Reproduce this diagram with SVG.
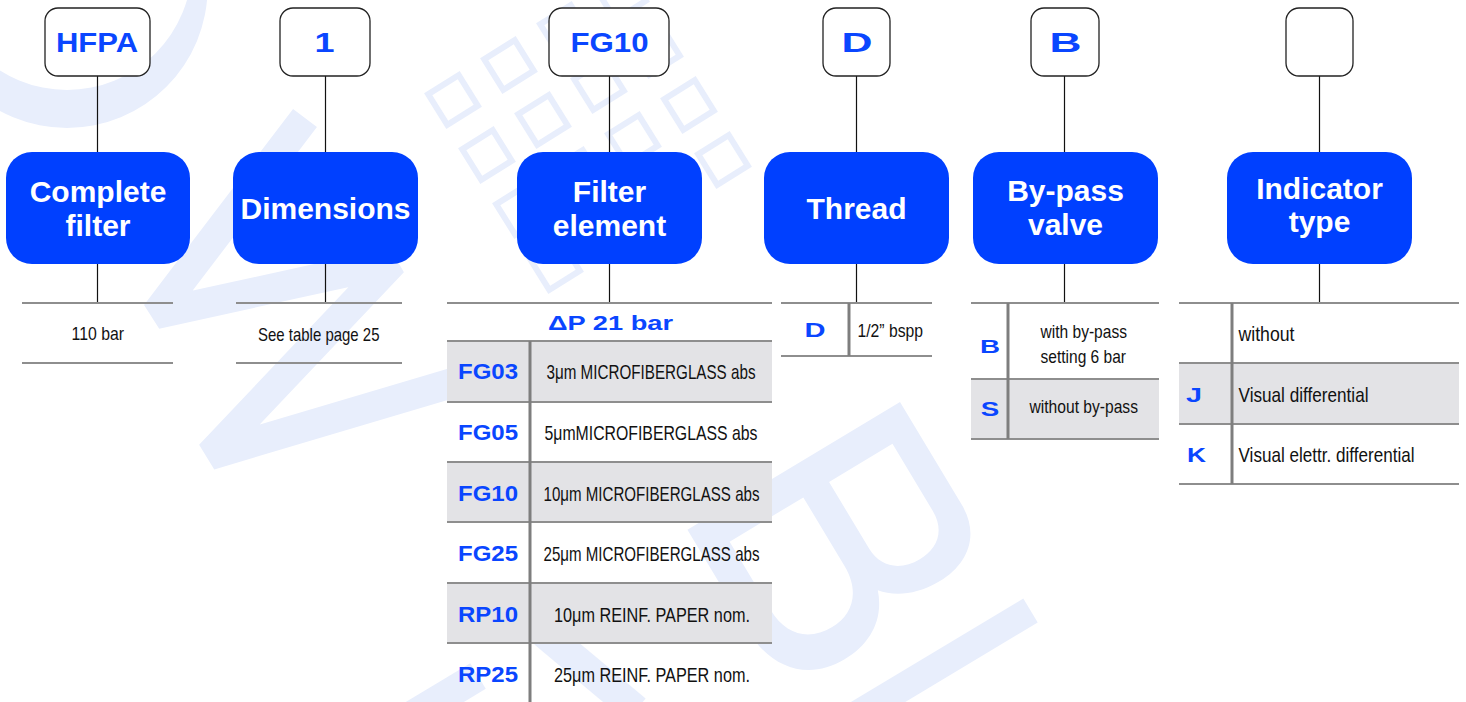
<svg xmlns="http://www.w3.org/2000/svg" width="1466" height="702" viewBox="0 0 1466 702">
<style>
.wm{fill:#e8eefc}
.wms{fill:none;stroke:#e8eefc}
.code-box{fill:#fff;stroke:#222;stroke-width:1.3}
.blue-box{fill:#0040ff}
.title{font-family:"Liberation Sans",Arial,sans-serif;font-weight:700;font-size:30px;fill:#fff;text-anchor:middle}
.code{font-family:"Liberation Sans",Arial,sans-serif;font-weight:700;fill:#0a46ff}
.top-code{font-size:27.5px;text-anchor:middle}
.desc{font-family:"Liberation Sans",Arial,sans-serif;fill:#111}
.d21{font-size:21px}
.d18{font-size:18.5px}
.hline{stroke:#8e8e8e;stroke-width:2}
.vsep{stroke:#7e7e7e;stroke-width:3}
.shade{fill:#e3e3e6}
.conn{stroke:#111;stroke-width:1.2}
</style>
<rect width="1466" height="702" fill="#fff"/>
<g id="watermark">
  <path class="wm" fill-rule="evenodd" d="M-73.6,-12.6 a140.6,140.6 0 1,0 281.2,0 a140.6,140.6 0 1,0 -281.2,0 Z M-58,-35 a125,125 0 1,0 250,0 a125,125 0 1,0 -250,0 Z"/>
  <polyline class="wms" stroke-width="30" stroke-linejoin="bevel" points="305,118 156,314 393,262 210,455 530,360"/>
  <g class="wms" stroke-width="6">
    <rect x="-18" y="-18" width="36" height="36" transform="translate(453,100) rotate(-32)"/>
    <rect x="-18" y="-18" width="36" height="36" transform="translate(509,65) rotate(-32)"/>
    <rect x="-18" y="-18" width="36" height="36" transform="translate(565,30) rotate(-32)"/>
    <rect x="-18" y="-18" width="36" height="36" transform="translate(621,-5) rotate(-32)"/>
    <rect x="-18" y="-18" width="36" height="36" transform="translate(487,155) rotate(-32)"/>
    <rect x="-18" y="-18" width="36" height="36" transform="translate(543,120) rotate(-32)"/>
    <rect x="-18" y="-18" width="36" height="36" transform="translate(599,85) rotate(-32)"/>
    <rect x="-18" y="-18" width="36" height="36" transform="translate(655,50) rotate(-32)"/>
    <rect x="-18" y="-18" width="36" height="36" transform="translate(521,210) rotate(-32)"/>
    <rect x="-18" y="-18" width="36" height="36" transform="translate(577,175) rotate(-32)"/>
    <rect x="-18" y="-18" width="36" height="36" transform="translate(633,140) rotate(-32)"/>
    <rect x="-18" y="-18" width="36" height="36" transform="translate(689,105) rotate(-32)"/>
    <rect x="-18" y="-18" width="36" height="36" transform="translate(555,265) rotate(-32)"/>
    <rect x="-18" y="-18" width="36" height="36" transform="translate(611,230) rotate(-32)"/>
    <rect x="-18" y="-18" width="36" height="36" transform="translate(667,195) rotate(-32)"/>
    <rect x="-18" y="-18" width="36" height="36" transform="translate(723,160) rotate(-32)"/>
  </g>
  <path class="wm" fill-rule="evenodd" transform="translate(900,402) rotate(59)" d="M0,0 H120 C155,0 174,25 174,58 C174,88 162,106 150,116 C178,126 192,150 192,180 C192,222 162,248 118,248 H0 Z M32,28 H110 C134,28 145,44 145,64 C145,86 132,102 110,102 H32 Z M32,132 H112 C142,132 158,150 158,174 C158,200 142,218 112,218 H32 Z"/>
  <line class="wms" stroke-width="28" x1="1030.5" y1="610.5" x2="799" y2="749.5"/>
  <line class="wms" stroke-width="30" x1="380" y1="735" x2="478" y2="676"/>
  <line class="wms" stroke-width="30" x1="544" y1="633" x2="636" y2="710"/>
</g>

<g id="connectors">
  <line class="conn" x1="97.5" y1="76" x2="97.5" y2="152"/>
  <line class="conn" x1="97.5" y1="264" x2="97.5" y2="303"/>
  <line class="conn" x1="325.5" y1="76" x2="325.5" y2="152"/>
  <line class="conn" x1="325.5" y1="264" x2="325.5" y2="303"/>
  <line class="conn" x1="609.5" y1="76" x2="609.5" y2="152"/>
  <line class="conn" x1="609.5" y1="264" x2="609.5" y2="303"/>
  <line class="conn" x1="856.5" y1="76" x2="856.5" y2="152"/>
  <line class="conn" x1="856.5" y1="264" x2="856.5" y2="303"/>
  <line class="conn" x1="1064.5" y1="76" x2="1064.5" y2="152"/>
  <line class="conn" x1="1064.5" y1="264" x2="1064.5" y2="303"/>
  <line class="conn" x1="1319.5" y1="76" x2="1319.5" y2="152"/>
  <line class="conn" x1="1319.5" y1="264" x2="1319.5" y2="303"/>
</g>

<g id="code-hfpa">
  <rect class="code-box" x="45" y="8" width="105" height="68" rx="13"/>
  <text class="code top-code" x="97" y="51.7" textLength="82" lengthAdjust="spacingAndGlyphs">HFPA</text>
</g>
<g id="code-1">
  <rect class="code-box" x="280" y="8" width="90" height="68" rx="13"/>
  <text class="code top-code" x="324.5" y="51.7" textLength="20" lengthAdjust="spacingAndGlyphs">1</text>
</g>
<g id="code-fg10">
  <rect class="code-box" x="549" y="8" width="120" height="68" rx="13"/>
  <text class="code top-code" x="609.5" y="51.7" textLength="78" lengthAdjust="spacingAndGlyphs">FG10</text>
</g>
<g id="code-d">
  <rect class="code-box" x="823" y="8" width="67" height="68" rx="13"/>
  <text class="code top-code" x="857" y="51.7" textLength="31" lengthAdjust="spacingAndGlyphs">D</text>
</g>
<g id="code-b">
  <rect class="code-box" x="1031" y="8" width="68" height="68" rx="13"/>
  <text class="code top-code" x="1065.5" y="51.7" textLength="32" lengthAdjust="spacingAndGlyphs">B</text>
</g>
<g id="code-empty">
  <rect class="code-box" x="1286" y="8" width="67" height="68" rx="13"/>
</g>

<g id="node-complete-filter">
  <rect class="blue-box" x="6" y="152" width="184" height="112" rx="26"/>
  <text class="title" x="98" y="202">Complete</text>
  <text class="title" x="98" y="236">filter</text>
</g>
<g id="node-dimensions">
  <rect class="blue-box" x="233" y="152" width="185" height="112" rx="26"/>
  <text class="title" x="325.5" y="218.5">Dimensions</text>
</g>
<g id="node-filter-element">
  <rect class="blue-box" x="517" y="152" width="185" height="112" rx="26"/>
  <text class="title" x="609.5" y="202">Filter</text>
  <text class="title" x="609.5" y="235.5">element</text>
</g>
<g id="node-thread">
  <rect class="blue-box" x="764" y="152" width="185" height="112" rx="26"/>
  <text class="title" x="856.5" y="218.5">Thread</text>
</g>
<g id="node-bypass">
  <rect class="blue-box" x="973" y="152" width="185" height="112" rx="26"/>
  <text class="title" x="1065.5" y="201">By-pass</text>
  <text class="title" x="1065.5" y="235">valve</text>
</g>
<g id="node-indicator">
  <rect class="blue-box" x="1227" y="152" width="185" height="112" rx="26"/>
  <text class="title" x="1319.5" y="198.5">Indicator</text>
  <text class="title" x="1319.5" y="231.5">type</text>
</g>

<g id="table-complete-filter">
  <line class="hline" x1="22" y1="303" x2="173" y2="303"/>
  <line class="hline" x1="22" y1="363" x2="173" y2="363"/>
  <text class="desc d18" x="71.5" y="340" textLength="52.5" lengthAdjust="spacingAndGlyphs">110 bar</text>
</g>
<g id="table-dimensions">
  <line class="hline" x1="236" y1="303" x2="402" y2="303"/>
  <line class="hline" x1="236" y1="363" x2="402" y2="363"/>
  <text class="desc d18" x="258" y="341" textLength="121.5" lengthAdjust="spacingAndGlyphs">See table page 25</text>
</g>
<g id="table-filter-element">
  <rect class="shade" x="447" y="341" width="325" height="61"/>
  <rect class="shade" x="447" y="462" width="325" height="60"/>
  <rect class="shade" x="447" y="583" width="325" height="60"/>
  <line class="hline" x1="447" y1="303" x2="772" y2="303"/>
  <line class="hline" x1="447" y1="341" x2="772" y2="341"/>
  <line class="hline" x1="447" y1="402" x2="772" y2="402"/>
  <line class="hline" x1="447" y1="462" x2="772" y2="462"/>
  <line class="hline" x1="447" y1="522" x2="772" y2="522"/>
  <line class="hline" x1="447" y1="583" x2="772" y2="583"/>
  <line class="hline" x1="447" y1="643" x2="772" y2="643"/>
  <line class="vsep" x1="530" y1="341" x2="530" y2="702"/>
  <text class="code" x="548" y="330" font-size="21" textLength="125" lengthAdjust="spacingAndGlyphs">ΔP 21 bar</text>
  <text class="code" x="458" y="379.3" font-size="22.5" textLength="60" lengthAdjust="spacingAndGlyphs">FG03</text>
  <text class="code" x="458" y="440" font-size="22.5" textLength="60" lengthAdjust="spacingAndGlyphs">FG05</text>
  <text class="code" x="458" y="500.7" font-size="22.5" textLength="60" lengthAdjust="spacingAndGlyphs">FG10</text>
  <text class="code" x="458" y="561" font-size="22.5" textLength="60" lengthAdjust="spacingAndGlyphs">FG25</text>
  <text class="code" x="458" y="621.7" font-size="22.5" textLength="60" lengthAdjust="spacingAndGlyphs">RP10</text>
  <text class="code" x="458" y="681.7" font-size="22.5" textLength="60" lengthAdjust="spacingAndGlyphs">RP25</text>
  <text class="desc d21" x="546.5" y="379.3" textLength="209" lengthAdjust="spacingAndGlyphs">3μm MICROFIBERGLASS abs</text>
  <text class="desc d21" x="544.5" y="440" textLength="213" lengthAdjust="spacingAndGlyphs">5μmMICROFIBERGLASS abs</text>
  <text class="desc d21" x="543.5" y="500.7" textLength="216" lengthAdjust="spacingAndGlyphs">10μm MICROFIBERGLASS abs</text>
  <text class="desc d21" x="543.5" y="561" textLength="216" lengthAdjust="spacingAndGlyphs">25μm MICROFIBERGLASS abs</text>
  <text class="desc d21" x="554" y="621.7" textLength="196" lengthAdjust="spacingAndGlyphs">10μm REINF. PAPER nom.</text>
  <text class="desc d21" x="554" y="681.7" textLength="196" lengthAdjust="spacingAndGlyphs">25μm REINF. PAPER nom.</text>
</g>
<g id="table-thread">
  <line class="hline" x1="781" y1="303" x2="932" y2="303"/>
  <line class="hline" x1="781" y1="356" x2="932" y2="356"/>
  <line class="vsep" x1="849" y1="303" x2="849" y2="356"/>
  <text class="code" x="815" y="336.7" font-size="20" text-anchor="middle" textLength="21" lengthAdjust="spacingAndGlyphs">D</text>
  <text class="desc d18" x="857.5" y="337" textLength="65.5" lengthAdjust="spacingAndGlyphs">1/2” bspp</text>
</g>
<g id="table-bypass">
  <rect class="shade" x="971" y="379" width="188" height="60"/>
  <line class="hline" x1="971" y1="303" x2="1159" y2="303"/>
  <line class="hline" x1="971" y1="379" x2="1159" y2="379"/>
  <line class="hline" x1="971" y1="439" x2="1159" y2="439"/>
  <line class="vsep" x1="1008" y1="303" x2="1008" y2="439"/>
  <text class="code" x="990" y="352.7" font-size="18" text-anchor="middle" textLength="20" lengthAdjust="spacingAndGlyphs">B</text>
  <text class="code" x="990" y="416" font-size="19.5" text-anchor="middle" textLength="18.5" lengthAdjust="spacingAndGlyphs">S</text>
  <text class="desc d18" x="1040.5" y="338.3" textLength="86.5" lengthAdjust="spacingAndGlyphs">with by-pass</text>
  <text class="desc d18" x="1040.5" y="363.3" textLength="85.5" lengthAdjust="spacingAndGlyphs">setting 6 bar</text>
  <text class="desc d18" x="1029.5" y="413.3" textLength="108.5" lengthAdjust="spacingAndGlyphs">without by-pass</text>
</g>
<g id="table-indicator">
  <rect class="shade" x="1179" y="363" width="280" height="61"/>
  <line class="hline" x1="1179" y1="303" x2="1459" y2="303"/>
  <line class="hline" x1="1179" y1="363" x2="1459" y2="363"/>
  <line class="hline" x1="1179" y1="424" x2="1459" y2="424"/>
  <line class="hline" x1="1179" y1="484" x2="1459" y2="484"/>
  <line class="vsep" x1="1232" y1="303" x2="1232" y2="484"/>
  <text class="code" x="1194" y="401.7" font-size="21" text-anchor="middle" textLength="16" lengthAdjust="spacingAndGlyphs">J</text>
  <text class="code" x="1196.5" y="461.7" font-size="21" text-anchor="middle" textLength="19" lengthAdjust="spacingAndGlyphs">K</text>
  <text class="desc d21" x="1238.5" y="341" textLength="56" lengthAdjust="spacingAndGlyphs">without</text>
  <text class="desc d21" x="1238.5" y="401.7" textLength="130" lengthAdjust="spacingAndGlyphs">Visual differential</text>
  <text class="desc d21" x="1238.5" y="461.7" textLength="176" lengthAdjust="spacingAndGlyphs">Visual elettr. differential</text>
</g>
</svg>
